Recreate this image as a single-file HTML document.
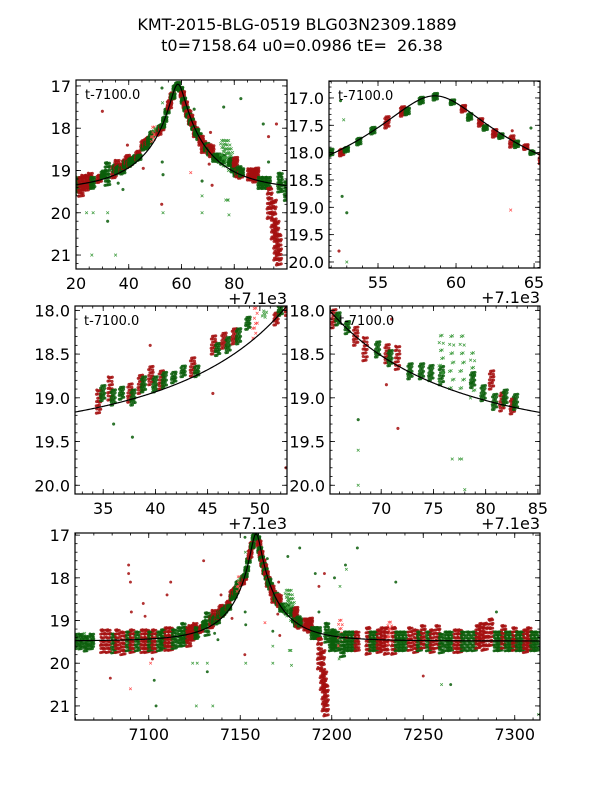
<!DOCTYPE html>
<html><head><meta charset="utf-8"><style>
html,body{margin:0;padding:0;background:#fff;}
svg{display:block;font-family:"DejaVu Sans","Liberation Sans",sans-serif;}
</style></head><body>
<svg id="fig" width="600" height="800" viewBox="0 0 600 800" xmlns="http://www.w3.org/2000/svg">
<rect width="600" height="800" fill="#fff"/>
<text x="297" y="30" font-size="16" text-anchor="middle">KMT-2015-BLG-0519 BLG03N2309.1889</text>
<text x="302" y="51" font-size="16" text-anchor="middle" xml:space="preserve">t0=7158.64 u0=0.0986 tE=  26.38</text>
<g id="plots"></g>
</svg>
<script>
// ---- model parameters ----
const t0 = 58.64, u0 = 0.0986, tE = 26.38, baseMag = 19.48;
// ---- per-night clusters (t-7100, centre mag, half spread) ----
const clT = [-40,-37,-34,-31,-25,-22,-19,-17,-14,-11,-9,-6,-3,-1,1,3,6,8,10,12,14,17,19,
 20.5,22,23,24.5,25.5,26.5,29,30.5,32,
 34.6,35,35.7,36,36.8,37.6,37.9,38.6,38.9,39.6,40,40.6,40.9,41.8,42.7,43.6,44,45.6,46,46.6,47,47.6,48,48.9,49.6,50.5,51.6,52,
 52.7,53,53.8,54.7,55.6,56.6,56.9,57.8,58.7,59.8,60.5,60.9,61.6,61.9,62.5,62.9,63.6,63.9,64.5,64.9,
 65.5,65.9,66.8,67.6,68.5,69.7,70.6,70.9,71.6,72.8,73.9,74.8,75.8,75.8,76.8,77.8,78.8,78.8,79.8,80.6,80.9,81.6,81.9,82.6,82.9,
 86,87,88,88.6,90,91.5,93,93.5,95,96,97,97.5,
 100,101,103,105,106,108,110,112,114,120,122,124,126,128,130,132,134,136,138,140,143,146,148,150,153,155,158,160,163,165,168,170,172,175,178,180,182,184,187,190,192,194,196,198,200,202,204,206,208,210,212];
const clM = [19.5,19.5,19.55,19.5,19.5,19.5,19.55,19.5,19.55,19.5,19.5,19.5,19.5,19.5,19.5,19.5,19.5,19.45,19.45,19.45,19.45,19.4,19.35,
 19.35,19.4,19.3,19.3,19.25,19.3,19.2,19.1,19.1,
 19.05,18.95,18.9,19.0,18.95,18.95,19.0,18.85,18.85,18.75,18.85,18.8,18.8,18.77,18.7,18.65,18.7,18.4,18.45,18.35,18.4,18.3,18.3,18.15,18.15,18.05,18.1,18.0,
 18.0,17.95,17.8,17.6,17.45,17.25,17.25,17.05,16.98,17.08,17.2,17.35,17.45,17.55,17.65,17.7,17.8,17.85,17.9,18.0,
 18.1,18.1,18.2,18.3,18.45,18.45,18.5,18.55,18.55,18.7,18.7,18.72,18.75,18.55,18.6,18.6,18.75,18.8,18.95,18.8,19.05,19.05,19.0,19.1,19.05,
 19.1,19.1,19.15,19.05,19.3,19.3,19.3,19.8,20.2,20.7,20.9,19.3,
 19.5,19.45,19.5,19.3,19.6,19.5,19.5,19.5,19.5,19.5,19.5,19.5,19.5,19.45,19.5,19.3,19.5,19.5,19.5,19.5,19.45,19.5,19.5,19.4,19.5,19.5,19.4,19.55,19.5,19.5,19.5,19.5,19.5,19.5,19.5,19.4,19.35,19.4,19.3,19.5,19.5,19.4,19.5,19.5,19.45,19.5,19.5,19.5,19.45,19.5,19.5];
const clS = [0.2,0.2,0.2,0.2,0.3,0.3,0.25,0.3,0.3,0.25,0.3,0.25,0.3,0.3,0.25,0.3,0.25,0.25,0.3,0.3,0.25,0.25,0.3,
 0.2,0.25,0.2,0.2,0.2,0.15,0.1,0.1,0.3,
 0.15,0.1,0.15,0.1,0.08,0.12,0.1,0.12,0.1,0.12,0.1,0.12,0.1,0.07,0.07,0.12,0.07,0.12,0.08,0.1,0.1,0.1,0.1,0.08,0.2,0.05,0.08,0.07,
 0.07,0.05,0.07,0.07,0.12,0.1,0.07,0.07,0.07,0.05,0.07,0.07,0.08,0.05,0.08,0.05,0.12,0.07,0.05,0.04,
 0.12,0.08,0.08,0.12,0.15,0.1,0.12,0.1,0.15,0.1,0.1,0.1,0.12,0.3,0.35,0.35,0.3,0.1,0.1,0.12,0.1,0.12,0.1,0.1,0.1,
 0.15,0.15,0.15,0.12,0.15,0.15,0.15,0.4,0.5,0.5,0.4,0.25,
 0.25,0.25,0.25,0.35,0.3,0.25,0.25,0.25,0.25,0.35,0.25,0.25,0.3,0.3,0.35,0.3,0.35,0.25,0.25,0.25,0.3,0.3,0.25,0.3,0.25,0.3,0.3,0.25,0.25,0.25,0.3,0.3,0.25,0.25,0.25,0.3,0.3,0.35,0.35,0.25,0.25,0.3,0.25,0.25,0.3,0.25,0.25,0.3,0.3,0.25,0.25];
const clK = ['g','g','g','g','r','r','g','r','r','g','r','g','r','r','g','r','g','g','r','r','g','g','g',
 'g','r','r','r','r','g','r','g','g',
 'r','g','r','g','g','r','g','r','g','r','g','r','g','g','g','r','g','r','g','r','g','r','g','g','rx','gx','r','g',
 'r','g','g','g','r','r','g','g','g','g','r','g','r','g','r','g','r','g','r','g',
 'r','g','g','r','r','g','r','g','r','g','g','g','g','gx','gx','gx','gx','g','g','r','g','r','g','r','g',
 'r','r','r','r','g','g','g','r','r','r','r','g',
 'g','g','g','rx','g','g','g','g','r','r','g','g','r','r','r','rx','r','g','g','g','r','r','g','r','g','r','r','g','g','g','r','r','g','g','g','r','r','r','r','g','g','r','g','g','r','g','g','r','r','g','g'];
// ---- individual outliers ----
const outT = [-11,-11,-10,-9.5,-3,-2,2,3,4,1,-10,-21,12,10,24,35,-35,26.5,32,32,26,30,52.5,52.7,53,67.8,67.8,77.5,78,63.5,76,82.5,91,93,93,96,101.5,108,114,104,112,108,52.6,52.8,53,63.6,64.8,67.8,76.8,77.7,71.6,70.5,71,37.8,36,39.5,45.5,104.5,107.5,135,160,182,190,213,150,165];
const outM = [17.7,17.9,18.1,18.8,18.6,18.9,19.9,20.4,21.0,20.0,20.6,20.35,18.1,18.4,20.0,21.0,19.3,20.0,20.0,20.2,21.0,17.6,19.8,18.8,20.0,19.6,20.0,19.7,20.05,19.05,17.5,17.3,17.9,18.2,18.8,17.9,18.0,17.8,17.3,19.9,21.5,19.4,17.05,17.4,19.1,17.6,17.55,19.25,19.7,19.7,19.35,18.85,18.1,19.45,19.3,18.4,18.95,18.2,17.7,18.1,20.5,19.7,18.8,21.2,20.3,20.5];
const outK = ['r','r','r','r','r','r','r','g','g','rx','rx','r','r','r','gx','gx','gx','gx','gx','g','gx','r','r','g','gx','gx','gx','gx','gx','rx','g','g','g','r','g','r','g','gx','g','gx','g','r','g','gx','g','r','g','g','gx','gx','r','r','r','g','g','r','r','gx','g','g','gx','r','g','gx','r','g'];

const NS = 'http://www.w3.org/2000/svg';
const root = document.getElementById('plots');
function mk(tag, attrs, parent) {
  const e = document.createElementNS(NS, tag);
  for (const k in attrs) e.setAttribute(k, attrs[k]);
  (parent || root).appendChild(e);
  return e;
}
function modelMag(t) {
  const tau = (t - t0) / tE;
  const u = Math.sqrt(u0 * u0 + tau * tau);
  const A = (u * u + 2) / (u * Math.sqrt(u * u + 4));
  return baseMag - 2.5 * Math.log10(A);
}
const panels = [
  {name:'panel-full-left', l:76, r:287, t:80, b:269, x0:20, x1:100, y0:16.86, y1:21.33, off:0, xt:[20,40,60,80], xm:5, yt:[17,18,19,20,21], ym:0.2, dec:0, label:true, offTxt:true},
  {name:'panel-peak', l:329, r:540, t:81, b:268, x0:51.86, x1:65.38, y0:16.69, y1:20.11, off:0, xt:[55,60,65], xm:1, yt:[17,17.5,18,18.5,19,19.5,20], ym:0.1, dec:1, label:true, offTxt:true},
  {name:'panel-rise', l:75, r:287, t:306, b:494, x0:32.3, x1:52.6, y0:17.95, y1:20.1, off:0, xt:[35,40,45,50], xm:1, yt:[18,18.5,19,19.5,20], ym:0.1, dec:1, label:true, offTxt:true},
  {name:'panel-fall', l:330, r:540, t:306, b:494, x0:65.1, x1:85.2, y0:17.95, y1:20.1, off:0, xt:[70,75,80,85], xm:1, yt:[18,18.5,19,19.5,20], ym:0.1, dec:1, label:true, offTxt:true},
  {name:'panel-season', l:75, r:540, t:533, b:720, x0:7059.7, x1:7313.8, y0:16.95, y1:21.33, off:7100, xt:[7100,7150,7200,7250,7300], xm:10, yt:[17,18,19,20,21], ym:0.2, dec:0, label:false, offTxt:false}
];
const colors = {r:'#a50f0f', g:'#0b5e0b', gx:'#3b9a3b', rx:'#ff4d4d'};
function drawMark(g, px, py, k, rad) {
  if (k === 'gx' || k === 'rx') {
    const s = rad * 1.0;
    const p = mk('path', {d:`M${px-s},${py-s}L${px+s},${py+s}M${px-s},${py+s}L${px+s},${py-s}`, stroke:colors[k], 'stroke-width':0.7, fill:'none'}, g);
    
    
  } else {
    const c = mk('circle', {cx:px, cy:py, r:rad, fill:colors[k], stroke:colors[k], 'stroke-width':0.3, 'fill-opacity':0.85}, g);
    
    
  }
}
panels.forEach((P, pi) => {
  const sx = v => P.l + (v - P.x0) / (P.x1 - P.x0) * (P.r - P.l);
  const sy = v => P.t + (v - P.y0) / (P.y1 - P.y0) * (P.b - P.t);
  const g = mk('g', {});
  
  
  const cp = mk('clipPath', {id:'clip' + pi}, g);
  mk('rect', {x:P.l, y:P.t, width:P.r - P.l, height:P.b - P.t}, cp);
  const data = mk('g', {'clip-path':'url(#clip' + pi + ')'}, g);
  
  
  const rad = pi === 4 ? 1.3 : 1.4;
  const jpx = pi === 4 ? 2.6 : 2.8;
  for (let i = 0; i < clT.length; i++) {
    const isX = clK[i] === 'gx' || clK[i] === 'rx';
    const n = isX ? Math.round(5 + clS[i] * 25) : Math.round(12 + clS[i] * 70);
    for (let j = 0; j < n; j++) {
      const fy = ((j * 0.5698403 + 0.5) % 1) * 2 - 1;
      const fx = ((j * 0.7548777 + 0.5) % 1) * 2 - 1;
      const t = clT[i] + P.off;
      const m = clM[i] + clS[i] * fy;
      if (t < P.x0 - 1 || t > P.x1 + 1) continue;
      drawMark(data, sx(t) + jpx * fx, sy(m), clK[i], rad);
    }
  }
  for (let i = 0; i < outT.length; i++) {
    const t = outT[i] + P.off;
    if (t < P.x0 - 1 || t > P.x1 + 1) continue;
    drawMark(data, sx(t), sy(outM[i]), outK[i], rad);
  }
  let d = '';
  const N = 300;
  for (let k = 0; k <= N; k++) {
    const t = P.x0 + (P.x1 - P.x0) * k / N;
    d += (k ? 'L' : 'M') + sx(t).toFixed(2) + ',' + sy(modelMag(t - P.off)).toFixed(2);
  }
  const line = mk('path', {d:d, stroke:'#000', 'stroke-width':1.2, fill:'none'}, data);
  
  
  const fr = mk('rect', {x:P.l, y:P.t, width:P.r - P.l, height:P.b - P.t, fill:'none', stroke:'#000', 'stroke-width':1.2}, g);
  
  
  const tk = mk('g', {stroke:'#000', 'stroke-width':0.8}, g);
  
  
  for (let v = Math.ceil(P.x0 / P.xm) * P.xm; v <= P.x1; v += P.xm) {
    const X = sx(v);
    mk('line', {x1:X, x2:X, y1:P.b, y2:P.b - 2.5}, tk);
    mk('line', {x1:X, x2:X, y1:P.t, y2:P.t + 2.5}, tk);
  }
  for (let v = Math.ceil(P.y0 / P.ym - 1e-6) * P.ym; v <= P.y1 + 1e-6; v += P.ym) {
    const Y = sy(v);
    mk('line', {x1:P.l, x2:P.l + 2.5, y1:Y, y2:Y}, tk);
    mk('line', {x1:P.r, x2:P.r - 2.5, y1:Y, y2:Y}, tk);
  }
  P.xt.forEach(v => {
    const X = sx(v);
    mk('line', {x1:X, x2:X, y1:P.b, y2:P.b - 5}, tk);
    mk('line', {x1:X, x2:X, y1:P.t, y2:P.t + 5}, tk);
    const tx = mk('text', {x:X, y:P.b + 20, 'font-size':16, 'text-anchor':'middle'}, g);
    tx.textContent = String(v);
    
    
  });
  P.yt.forEach(v => {
    const Y = sy(v);
    mk('line', {x1:P.l, x2:P.l + 5, y1:Y, y2:Y}, tk);
    mk('line', {x1:P.r, x2:P.r - 5, y1:Y, y2:Y}, tk);
    const ty = mk('text', {x:P.l - 5, y:Y + 6, 'font-size':16, 'text-anchor':'end'}, g);
    ty.textContent = v.toFixed(P.dec);
    
    
  });
  if (P.label) {
    const lb = mk('text', {x:P.l + 9, y:P.t + 19, 'font-size':13}, g);
    lb.textContent = 't-7100.0';
    
    
  }
  if (P.offTxt) {
    const ot = mk('text', {x:P.r, y:P.b + 35, 'font-size':16, 'text-anchor':'end'}, g);
    ot.textContent = '+7.1e3';
    
    
  }
});
</script>
</body></html>
